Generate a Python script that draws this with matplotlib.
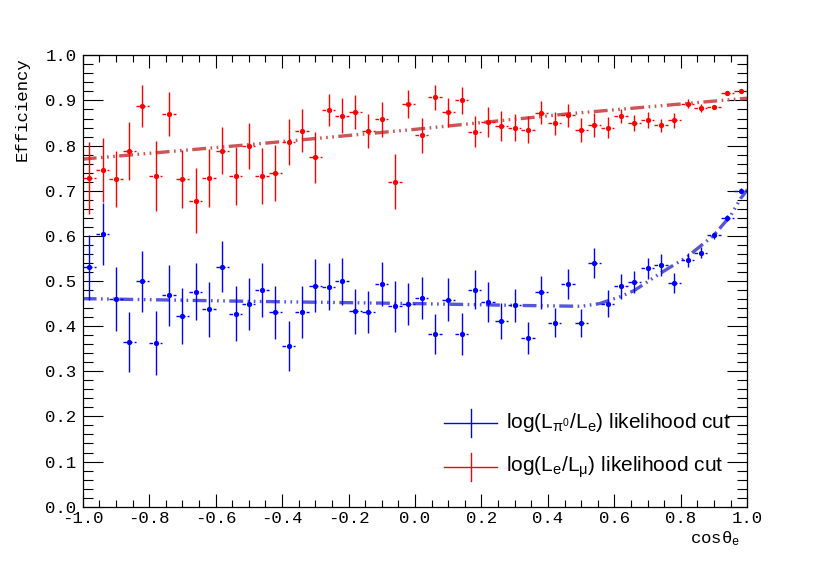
import matplotlib
matplotlib.use("Agg")
import matplotlib.pyplot as plt
from matplotlib.ticker import MultipleLocator, FormatStrFormatter
import numpy as np

# ---------------- data ----------------
bin_centers = [-0.98, -0.94, -0.90, -0.86, -0.82, -0.78, -0.74, -0.70, -0.66, -0.62,
               -0.58, -0.54, -0.50, -0.46, -0.42, -0.38, -0.34, -0.30, -0.26, -0.22,
               -0.18, -0.14, -0.10, -0.06, -0.02, 0.02, 0.06, 0.10, 0.14, 0.18,
               0.22, 0.26, 0.30, 0.34, 0.38, 0.42, 0.46, 0.50, 0.54, 0.58,
               0.62, 0.66, 0.70, 0.74, 0.78, 0.82, 0.86, 0.90, 0.94, 0.98]
bin_halfwidth = 0.02

eff_emu = [0.728, 0.745, 0.726, 0.788, 0.888, 0.733, 0.870, 0.726, 0.678, 0.728,
           0.789, 0.732, 0.800, 0.732, 0.739, 0.808, 0.833, 0.774, 0.879, 0.866,
           0.874, 0.833, 0.858, 0.720, 0.893, 0.823, 0.907, 0.874, 0.900, 0.831,
           0.852, 0.843, 0.840, 0.835, 0.873, 0.849, 0.867, 0.835, 0.846, 0.840,
           0.866, 0.850, 0.857, 0.845, 0.856, 0.893, 0.884, 0.885, 0.916, 0.921]
err_emu = [0.079, 0.071, 0.063, 0.064, 0.046, 0.078, 0.049, 0.065, 0.072, 0.064,
           0.053, 0.064, 0.051, 0.062, 0.062, 0.052, 0.048, 0.057, 0.036, 0.039,
           0.037, 0.038, 0.039, 0.061, 0.031, 0.039, 0.028, 0.032, 0.029, 0.035,
           0.033, 0.033, 0.029, 0.030, 0.025, 0.026, 0.025, 0.026, 0.026, 0.024,
           0.016, 0.017, 0.017, 0.015, 0.017, 0.010, 0.009, 0.005, 0.004, 0.004]

eff_pie = [0.530, 0.604, 0.460, 0.365, 0.499, 0.363, 0.468, 0.422, 0.476, 0.437,
           0.532, 0.428, 0.449, 0.480, 0.431, 0.356, 0.432, 0.490, 0.487, 0.499,
           0.433, 0.431, 0.493, 0.444, 0.449, 0.462, 0.383, 0.459, 0.383, 0.481,
           0.454, 0.411, 0.446, 0.374, 0.475, 0.408, 0.494, 0.407, 0.540, 0.450,
           0.488, 0.498, 0.528, 0.535, 0.496, 0.546, 0.563, 0.601, 0.640, 0.700]
err_pie = [0.072, 0.068, 0.070, 0.067, 0.068, 0.071, 0.067, 0.062, 0.063, 0.061,
           0.057, 0.061, 0.058, 0.060, 0.059, 0.056, 0.058, 0.059, 0.052, 0.053,
           0.050, 0.046, 0.049, 0.057, 0.047, 0.047, 0.044, 0.047, 0.046, 0.044,
           0.044, 0.040, 0.037, 0.036, 0.036, 0.032, 0.033, 0.031, 0.033, 0.029,
           0.028, 0.025, 0.023, 0.024, 0.022, 0.015, 0.012, 0.008, 0.007, 0.005]

# fit curves
fit_emu_x = [-1.0, -0.5, 0.0, 0.456, 1.0]
fit_emu_y = [0.770, 0.802, 0.836, 0.870, 0.905]
fit_pie_x = [-1.0, -0.5, 0.0, 0.30, 0.50, 0.556, 0.62, 0.66, 0.74, 0.82, 0.90, 0.95, 0.98, 1.0]
fit_pie_y = [0.461, 0.455, 0.450, 0.446, 0.444, 0.450, 0.466, 0.479, 0.518, 0.554, 0.602, 0.645, 0.683, 0.702]

legend_labels = [r'log(L$_{\mathregular{π^0}}$/L$_{\mathregular{e}}$) likelihood cut',
                 r'log(L$_{\mathregular{e}}$/L$_{\mathregular{μ}}$) likelihood cut']

# ---------------- style ----------------
plt.rcParams['lines.scale_dashes'] = False
mono = 'Liberation Mono'
sans = 'Liberation Sans'

fig = plt.figure(figsize=(8.3, 5.65), dpi=100)
ax = fig.add_axes([0.0996, 0.1032, 0.8008, 0.7989])

ax.set_xlim(-1, 1)
ax.set_ylim(0, 1)

fit_dash = (0, (10, 3.2, 1.2, 3.2, 1.2, 3.2, 1.2, 3.2))
ax.plot(fit_emu_x, fit_emu_y, color='#cc5555', lw=2.4, ls=fit_dash, zorder=2)
ax.plot(fit_pie_x, fit_pie_y, color='#5555dd', lw=2.4, ls=fit_dash, zorder=2)

xerr = [bin_halfwidth] * len(bin_centers)
for y, e, c in [(eff_pie, err_pie, '#0000ff'), (eff_emu, err_emu, '#ff0000')]:
    cont = ax.errorbar(bin_centers, y, yerr=e, xerr=xerr, fmt='o', color=c,
                       ms=3.8, mew=0, elinewidth=1.0, capsize=0, zorder=3)
    cont[2][0].set_linestyle((0, (2.5, 1.5)))

# axes & ticks
for s in ax.spines.values():
    s.set_linewidth(0.9)
ax.xaxis.set_major_locator(MultipleLocator(0.2))
ax.xaxis.set_minor_locator(MultipleLocator(0.05))
ax.yaxis.set_major_locator(MultipleLocator(0.1))
ax.yaxis.set_minor_locator(MultipleLocator(0.02))
ax.xaxis.set_major_formatter(FormatStrFormatter('%.1f'))
ax.yaxis.set_major_formatter(FormatStrFormatter('%.1f'))
ax.tick_params(axis='both', which='both', direction='in', top=True, right=True, width=0.8)
ax.tick_params(axis='x', which='major', length=9.7, pad=3)
ax.tick_params(axis='x', which='minor', length=4.9)
ax.tick_params(axis='y', which='major', length=14.4, pad=4.5)
ax.tick_params(axis='y', which='minor', length=7.2)
for lab in ax.get_xticklabels() + ax.get_yticklabels():
    lab.set_fontfamily(mono)
    lab.set_fontsize(12.5)

fig.text(21.7 / 830, 1 - 57 / 565, 'Efficiency', fontfamily=mono, fontsize=12.5,
         rotation=90, ha='center', va='top')

fig.text(740 / 830, 1 - 539 / 565, r'cos$\mathregular{θ_e}$', fontfamily=mono,
         fontsize=12.5, ha='right', va='center')

# manual legend
leg_colors = ['#0000ff', '#ff0000']
leg_y = [423, 467]
for lbl, c, yp in zip(legend_labels, leg_colors, leg_y):
    yf = 1 - yp / 565
    fig.add_artist(plt.Line2D([444 / 830, 497 / 830], [yf, yf], color=c, lw=1.0,
                              transform=fig.transFigure))
    fig.add_artist(plt.Line2D([470.5 / 830, 470.5 / 830], [yf - 14 / 565, yf + 14 / 565],
                              color=c, lw=1.0, transform=fig.transFigure))
    fig.text(506 / 830, yf, lbl, fontfamily=sans, fontsize=15, ha='left', va='center')

fig.savefig('out.png', dpi=100)
